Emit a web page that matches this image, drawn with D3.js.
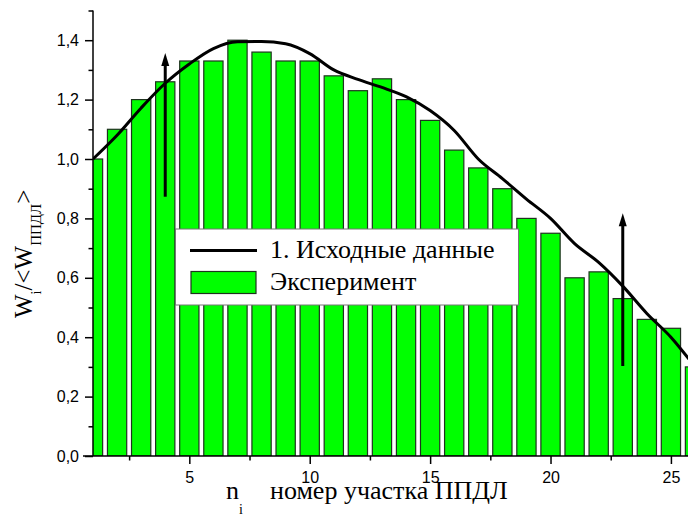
<!DOCTYPE html>
<html><head><meta charset="utf-8">
<script src="https://cdn.jsdelivr.net/npm/d3@7"></script>
<style>
html,body{margin:0;padding:0;background:#fff;}
svg{display:block;}
</style></head>
<body>
<script>
// ---- data ----
const sections = [1,2,3,4,5,6,7,8,9,10,11,12,13,14,15,16,17,18,19,20,21,22,23,24,25,26];
const experiment = [1.00,1.10,1.20,1.26,1.33,1.33,1.40,1.36,1.33,1.33,1.28,1.23,1.27,1.20,1.13,1.03,0.97,0.90,0.80,0.75,0.60,0.62,0.53,0.46,0.43,0.30];
const initialData = [1.00,1.08,1.172,1.255,1.32,1.372,1.395,1.396,1.388,1.355,1.30,1.268,1.241,1.21,1.163,1.096,1.00,0.934,0.865,0.80,0.715,0.652,0.572,0.48,0.40,0.30];
const arrows = [{x:4, from:0.873, to:1.357},{x:23, from:0.303, to:0.817}];
const xMajorTicks = [5,10,15,20,25];
const xMinorTicks = [2.5,7.5,12.5,17.5,22.5,27.5];
const yMajorTicks = [0,0.2,0.4,0.6,0.8,1.0,1.2,1.4];
const yMinorTicks = [0.1,0.3,0.5,0.7,0.9,1.1,1.3,1.5];
const legendLabels = ["1. Исходные данные","Эксперимент"];

const W = 688, H = 518;
const svg = d3.select("body").append("svg").attr("width",W).attr("height",H);

const x = d3.scaleLinear().domain([1,26.5]).range([93, 93+25.5*24.08]);
const y = d3.scaleLinear().domain([0,1.5]).range([456, 10.5]);
const barW = 0.8*24.08;

svg.append("defs").append("clipPath").attr("id","plotclip")
  .append("rect").attr("x",x(1)).attr("y",0).attr("width",W-x(1)).attr("height",y(0));

const plot = svg.append("g").attr("clip-path","url(#plotclip)");

plot.selectAll("rect.bar").data(sections).join("rect")
  .attr("class","bar")
  .attr("x",(d)=>x(d)-barW/2)
  .attr("y",(d,i)=>y(experiment[i]))
  .attr("width",barW)
  .attr("height",(d,i)=>y(0)-y(experiment[i]))
  .attr("fill","#00ff00")
  .attr("stroke","#1f331f")
  .attr("stroke-width",1.2);

const line = d3.line().x((d)=>x(d)).y((d,i)=>y(initialData[i])).curve(d3.curveMonotoneX);
plot.append("path").datum(sections).attr("d",line)
  .attr("fill","none").attr("stroke","#000").attr("stroke-width",3).attr("stroke-linejoin","round");

// arrows
arrows.forEach(a=>{
  const ax = x(a.x), y0 = y(a.from), y1 = y(a.to);
  plot.append("line").attr("x1",ax).attr("x2",ax).attr("y1",y0).attr("y2",y1+10)
    .attr("stroke","#000").attr("stroke-width",3);
  plot.append("path").attr("d",`M${ax},${y1} L${ax-4},${y1+13} L${ax+4},${y1+13} Z`).attr("fill","#000");
});

// legend
const serif = "'Liberation Serif','Times New Roman',serif";
const lg = svg.append("g");
lg.append("rect").attr("x",175.5).attr("y",229).attr("width",343).attr("height",76)
  .attr("fill","#fff").attr("stroke","#777").attr("stroke-width",1);
lg.append("line").attr("x1",190).attr("x2",257).attr("y1",250.5).attr("y2",250.5)
  .attr("stroke","#000").attr("stroke-width",3);
lg.append("rect").attr("x",191).attr("y",271.5).attr("width",65).attr("height",22)
  .attr("fill","#00ff00").attr("stroke","#1f331f").attr("stroke-width",1.2);
lg.selectAll("text").data(legendLabels).join("text")
  .attr("x",270).attr("y",(d,i)=>258+i*32)
  .attr("font-family",serif)
  .attr("font-size",26).attr("fill","#000").text(d=>d);

// axes
const font = "'Liberation Sans',Arial,sans-serif";
const yAxisMajor = d3.axisLeft(y).tickValues(yMajorTicks).tickSize(8).tickPadding(6)
  .tickFormat(d=>d3.format(".1f")(d).replace(".",","));
const gy = svg.append("g").attr("transform",`translate(${x(1)},0)`).call(yAxisMajor);
gy.select(".domain").remove();
gy.append("g").call(d3.axisLeft(y).tickValues(yMinorTicks).tickSize(4.5).tickFormat(""))
  .select(".domain").remove();
gy.append("line").attr("x1",0).attr("x2",0).attr("y1",y(0)).attr("y2",y(1.5)).attr("stroke","#000").attr("stroke-width",1.5);

const xAxisMajor = d3.axisBottom(x).tickValues(xMajorTicks).tickSize(8).tickPadding(8).tickFormat(d3.format("d"));
const gx = svg.append("g").attr("transform",`translate(0,${y(0)})`).call(xAxisMajor);
gx.select(".domain").remove();
gx.append("g").call(d3.axisBottom(x).tickValues(xMinorTicks).tickSize(4.5).tickFormat(""))
  .select(".domain").remove();
gx.append("line").attr("x1",x(1)-10).attr("x2",W).attr("y1",0).attr("y2",0).attr("stroke","#000").attr("stroke-width",1.5);

svg.selectAll(".tick line").attr("stroke","#000").attr("stroke-width",1.5);
svg.selectAll(".tick text").attr("font-family",font).attr("font-size",16).attr("fill","#000");

// axis titles
const xt = svg.append("text").attr("font-family",serif).attr("font-size",26).attr("fill","#000");
xt.append("tspan").attr("x",226).attr("y",499).text("n");
xt.append("tspan").attr("x",239).attr("y",514).attr("font-size",14).text("i");
xt.append("tspan").attr("x",270).attr("y",499).text("номер участка ППДЛ");

const yt = svg.append("text").attr("font-family",serif).attr("font-size",25).attr("fill","#000")
  .attr("transform","translate(32,318) rotate(-90)").attr("x",0).attr("y",0);
yt.append("tspan").text("W");
yt.append("tspan").attr("font-size",14).attr("dy",9).text("i");
yt.append("tspan").attr("dy",-9).text("/<W");
yt.append("tspan").attr("font-size",15).attr("dy",9).text("ППДЛ");
yt.append("tspan").attr("dy",-9).text(">");
</script>
</body></html>
